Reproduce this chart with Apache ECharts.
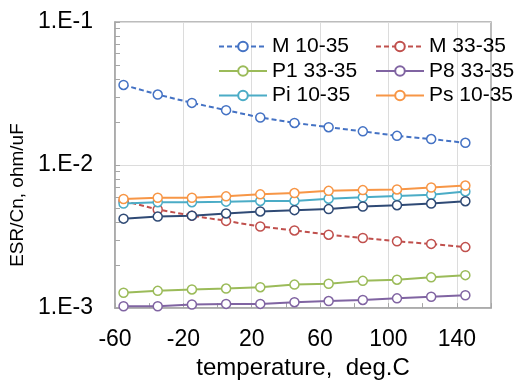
<!DOCTYPE html>
<html>
<head>
<meta charset="utf-8">
<script src="https://cdn.jsdelivr.net/npm/echarts@6.0.0/dist/echarts.min.js"></script>
<style>
  html, body { margin: 0; padding: 0; background: #fff; }
  #chart { width: 516px; height: 385px; }
</style>
</head>
<body>
<div id="chart"></div>
<script>
// temperatures, deg.C
const temps = [-55, -35, -15, 5, 25, 45, 65, 85, 105, 125, 145]

// ESR/Cn, ohm/uF
const m1035 = [0.0363, 0.0311, 0.0272, 0.0242, 0.0215, 0.0197, 0.0184, 0.0172, 0.0160, 0.0152, 0.0143]
const m3335 = [0.00561, 0.00489, 0.00443, 0.00407, 0.00372, 0.00349, 0.00326, 0.00309, 0.00293, 0.00281, 0.00267]
const p13335 = [0.00128, 0.00132, 0.00135, 0.00137, 0.00140, 0.00146, 0.00148, 0.00155, 0.00158, 0.00164, 0.00170]
const p83335 = [0.00103, 0.00103, 0.00106, 0.00107, 0.00107, 0.00110, 0.00112, 0.00114, 0.00117, 0.00120, 0.00123]
const pi1035 = [0.00538, 0.00550, 0.00550, 0.00555, 0.00561, 0.00561, 0.00582, 0.00595, 0.00607, 0.00620, 0.00654]
const ps1035 = [0.00579, 0.00591, 0.00591, 0.00604, 0.00624, 0.00637, 0.00660, 0.00668, 0.00675, 0.00697, 0.00719]
// dark line, not listed in the legend
const extra = [0.00422, 0.00436, 0.00443, 0.00459, 0.00474, 0.00484, 0.00492, 0.00513, 0.00524, 0.00538, 0.00559]

const xLabels = [-60, -20, 20, 60, 100, 140]
const yMinorTicks = [0.002, 0.003, 0.004, 0.005, 0.006, 0.007, 0.008, 0.009,
  0.02, 0.03, 0.04, 0.05, 0.06, 0.07, 0.08, 0.09]

const font = 'Liberation Sans, Arial, sans-serif'

function mkSeries(name, vals, color, dashed) {
  return {
    name: name,
    type: 'line',
    data: temps.map((t, i) => [t, vals[i]]),
    symbol: 'circle',
    symbolSize: 9,
    lineStyle: { color: color, width: 2, type: dashed ? [5, 3] : 'solid' },
    itemStyle: { color: '#fff', borderColor: color, borderWidth: 1.5 },
    emphasis: { disabled: true },
    animation: false
  }
}

const legendText = { fontFamily: font, fontSize: 21, color: '#000', lineHeight: 21 }

const option = {
  backgroundColor: '#fff',
  grid: {
    left: 115, right: 25, top: 22, bottom: 72,
    show: true, borderColor: '#a6a6a6', borderWidth: 1.5
  },
  legend: [
    {
      data: ['M 10-35', 'P1 33-35', 'Pi 10-35'],
      orient: 'vertical', left: 218, top: 36, padding: 0,
      itemWidth: 48, itemHeight: 12, itemGap: 3.5,
      textStyle: legendText
    },
    {
      data: ['M 33-35', 'P8 33-35', 'Ps 10-35'],
      orient: 'vertical', left: 375, top: 36, padding: 0,
      itemWidth: 48, itemHeight: 12, itemGap: 3.5,
      textStyle: legendText
    }
  ],
  xAxis: {
    type: 'value',
    min: -60, max: 160, interval: 20,
    name: 'temperature,  deg.C',
    nameLocation: 'middle',
    nameGap: 46,
    nameTextStyle: { fontFamily: font, fontSize: 24, color: '#000' },
    axisLine: { onZero: false, lineStyle: { color: '#a6a6a6', width: 1.5 } },
    axisTick: { inside: true, length: 5, lineStyle: { color: '#a6a6a6' } },
    axisLabel: {
      fontFamily: font, fontSize: 23, color: '#000', margin: 20,
      formatter: v => (xLabels.indexOf(v) >= 0 ? String(v) : '')
    },
    splitLine: { show: true, lineStyle: { color: ['#dcdcdc', 'rgba(0,0,0,0)'], width: 1 } }
  },
  yAxis: [
    {
      type: 'log', logBase: 10,
      min: 0.001, max: 0.1,
      position: 'left',
      name: 'ESR/Cn, ohm/uF',
      nameLocation: 'middle',
      nameGap: 81,
      nameTextStyle: { fontFamily: font, fontSize: 19, color: '#000', padding: [0, 60, 0, 0] },
      axisLine: { show: true, onZero: false, lineStyle: { color: '#a6a6a6', width: 1.5 } },
      axisTick: { show: true, inside: true, length: 5, lineStyle: { color: '#a6a6a6' } },
      axisLabel: {
        fontFamily: font, fontSize: 23, color: '#000', margin: 22,
        formatter: v => '1.E' + Math.round(Math.log10(v))
      },
      splitLine: { show: true, lineStyle: { color: '#dcdcdc', width: 1 } }
    },
    {
      type: 'log', logBase: 10,
      min: 0.001, max: 0.1,
      position: 'left',
      axisLine: { show: false, onZero: false },
      axisLabel: { show: false },
      splitLine: { show: false },
      axisTick: {
        show: true, inside: true, length: 5,
        customValues: yMinorTicks,
        lineStyle: { color: '#a6a6a6' }
      }
    }
  ],
  series: [
    mkSeries('M 10-35', m1035, '#4472C4', true),
    mkSeries('M 33-35', m3335, '#C0504D', true),
    mkSeries('P1 33-35', p13335, '#9BBB59', false),
    mkSeries('P8 33-35', p83335, '#8064A2', false),
    mkSeries('Pi 10-35', pi1035, '#4BACC6', false),
    mkSeries('Ps 10-35', ps1035, '#F79646', false),
    mkSeries('extra', extra, '#2F4A75', false)
  ]
}

const chart = echarts.init(document.getElementById('chart'), null, { renderer: 'canvas' })
chart.setOption(option)
</script>
</body>
</html>
